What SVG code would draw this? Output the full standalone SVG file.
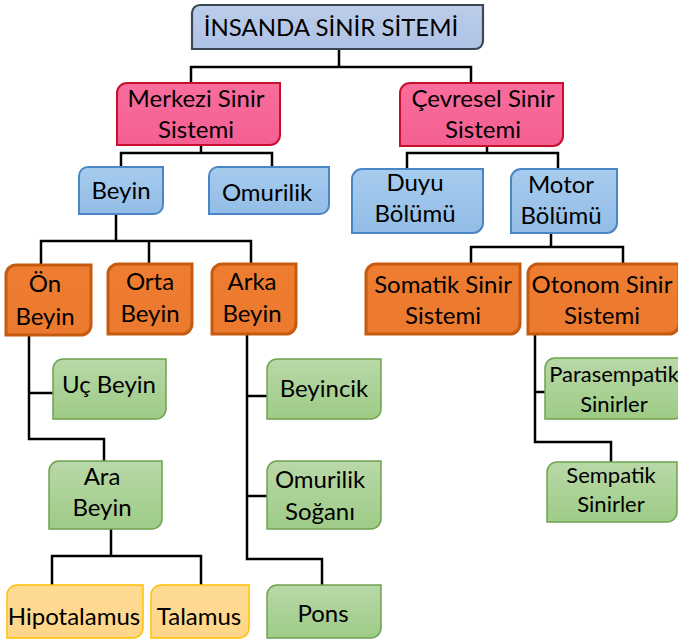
<svg xmlns="http://www.w3.org/2000/svg" width="678" height="644" viewBox="0 0 678 644">
<defs>
<linearGradient id="gTitle" x1="0" y1="0" x2="0" y2="1"><stop offset="0" stop-color="#bccdea"/><stop offset="1" stop-color="#aec2e5"/></linearGradient>
<linearGradient id="gPink" x1="0" y1="0" x2="0" y2="1"><stop offset="0" stop-color="#fa6d9c"/><stop offset="1" stop-color="#f45f93"/></linearGradient>
<linearGradient id="gBlue" x1="0" y1="0" x2="0" y2="1"><stop offset="0" stop-color="#a6cbee"/><stop offset="1" stop-color="#93bde6"/></linearGradient>
<linearGradient id="gOrange" x1="0" y1="0" x2="0" y2="1"><stop offset="0" stop-color="#ee7d32"/><stop offset="1" stop-color="#eb792e"/></linearGradient>
<linearGradient id="gGreen" x1="0" y1="0" x2="0" y2="1"><stop offset="0" stop-color="#b9d8a8"/><stop offset="1" stop-color="#9ecb86"/></linearGradient>
<linearGradient id="gYellow" x1="0" y1="0" x2="0" y2="1"><stop offset="0" stop-color="#ffdb96"/><stop offset="1" stop-color="#ffd688"/></linearGradient>
</defs>
<style>
text{font-family:"Lato","Open Sans",sans-serif;font-size:24px;fill:#000;text-anchor:middle}
.sm{font-size:22px}
.title{fill:url(#gTitle);stroke:#3c4656;stroke-width:2.2}
.pink{fill:url(#gPink);stroke:#c8102e;stroke-width:2}
.blue{fill:url(#gBlue);stroke:#4a86c5;stroke-width:2}
.orange{fill:url(#gOrange);stroke:#c55a11;stroke-width:3}
.green{fill:url(#gGreen);stroke:#6fa34f;stroke-width:1.5}
.yellow{fill:url(#gYellow);stroke:#ffc000;stroke-width:1.5}
#connectors path{fill:none;stroke:#000;stroke-width:2.5}
</style>
<g id="connectors">
<path d="M339 49V67M191 83V67H471V83"/>
<path d="M201 145V153M121 167V153H272V167"/>
<path d="M487 146V153M407 169V153H558V169"/>
<path d="M116 214V241M41 265V241H251V264M149 241V264"/>
<path d="M551 233V247M471 264V247H623V264"/>
<path d="M29 335V439H104V461M29 393H53"/>
<path d="M111 529V556M52 585V556H201V585"/>
<path d="M247 334V559H322V585M247 396H267M247 496H267"/>
<path d="M535 334V442H611V462M535 392H545"/>
</g>
<g id="title"><path class="title" d="M200 5H483V41A8 8 0 0 1 475 49H192V13A8 8 0 0 1 200 5Z"/><text x="331" y="36">İNSANDA SİNİR SİTEMİ</text></g>
<g id="merkezi"><path class="pink" d="M127 83H280V135A10 10 0 0 1 270 145H117V93A10 10 0 0 1 127 83Z"/><text x="196" y="107">Merkezi Sinir</text><text x="196" y="138">Sistemi</text></g>
<g id="cevresel"><path class="pink" d="M410 83H563V136A10 10 0 0 1 553 146H400V93A10 10 0 0 1 410 83Z"/><text x="483" y="107">Çevresel Sinir</text><text x="483" y="138">Sistemi</text></g>
<g id="beyin"><path class="blue" d="M88 167H163V205A9 9 0 0 1 154 214H79V176A9 9 0 0 1 88 167Z"/><text x="121" y="199">Beyin</text></g>
<g id="omurilik"><path class="blue" d="M218 167H329V205A9 9 0 0 1 320 214H209V176A9 9 0 0 1 218 167Z"/><text x="267" y="201">Omurilik</text></g>
<g id="duyu"><path class="blue" d="M362 169H483V223A10 10 0 0 1 473 233H352V179A10 10 0 0 1 362 169Z"/><text x="415" y="191">Duyu</text><text x="415" y="222">Bölümü</text></g>
<g id="motor"><path class="blue" d="M521 169H617V223A10 10 0 0 1 607 233H511V179A10 10 0 0 1 521 169Z"/><text x="561" y="193">Motor</text><text x="561" y="224">Bölümü</text></g>
<g id="on"><path class="orange" d="M16 265H91V325A10 10 0 0 1 81 335H6V275A10 10 0 0 1 16 265Z"/><text x="45" y="292">Ön</text><text x="45" y="325">Beyin</text></g>
<g id="orta"><path class="orange" d="M118 264H192V324A10 10 0 0 1 182 334H108V274A10 10 0 0 1 118 264Z"/><text x="150" y="290">Orta</text><text x="150" y="322">Beyin</text></g>
<g id="arka"><path class="orange" d="M222 264H296V324A10 10 0 0 1 286 334H212V274A10 10 0 0 1 222 264Z"/><text x="252" y="290">Arka</text><text x="252" y="322">Beyin</text></g>
<g id="somatik"><path class="orange" d="M376 264H520V324A10 10 0 0 1 510 334H366V274A10 10 0 0 1 376 264Z"/><text x="443" y="293">Somatik Sinir</text><text x="443" y="324">Sistemi</text></g>
<g id="otonom"><path class="orange" d="M538 264H679V324A10 10 0 0 1 669 334H528V274A10 10 0 0 1 538 264Z"/><text x="602" y="293">Otonom Sinir</text><text x="602" y="324">Sistemi</text></g>
<g id="uc-beyin"><path class="green" d="M63 359H166V409A10 10 0 0 1 156 419H53V369A10 10 0 0 1 63 359Z"/><text x="109" y="393">Uç Beyin</text></g>
<g id="ara-beyin"><path class="green" d="M59 461H162V519A10 10 0 0 1 152 529H49V471A10 10 0 0 1 59 461Z"/><text x="102" y="485">Ara</text><text x="102" y="516">Beyin</text></g>
<g id="hipotalamus"><path class="yellow" d="M17 585H143V628A10 10 0 0 1 133 638H7V595A10 10 0 0 1 17 585Z"/><text x="74" y="625">Hipotalamus</text></g>
<g id="talamus"><path class="yellow" d="M161 585H249V628A10 10 0 0 1 239 638H151V595A10 10 0 0 1 161 585Z"/><text x="199" y="625">Talamus</text></g>
<g id="beyincik"><path class="green" d="M277 359H381V409A10 10 0 0 1 371 419H267V369A10 10 0 0 1 277 359Z"/><text x="324" y="397">Beyincik</text></g>
<g id="omurilik-sogani"><path class="green" d="M277 461H381V519A10 10 0 0 1 371 529H267V471A10 10 0 0 1 277 461Z"/><text x="320" y="488">Omurilik</text><text x="320" y="520">Soğanı</text></g>
<g id="pons"><path class="green" d="M277 585H381V628A10 10 0 0 1 371 638H267V595A10 10 0 0 1 277 585Z"/><text x="323" y="622">Pons</text></g>
<g id="parasempatik"><path class="green" d="M555 358H684V409A10 10 0 0 1 674 419H545V368A10 10 0 0 1 555 358Z"/><text class="sm" x="614" y="382">Parasempatik</text><text class="sm" x="614" y="412">Sinirler</text></g>
<g id="sempatik"><path class="green" d="M557 462H677V512A10 10 0 0 1 667 522H547V472A10 10 0 0 1 557 462Z"/><text class="sm" x="611" y="483">Sempatik</text><text class="sm" x="611" y="512">Sinirler</text></g>
</svg>
